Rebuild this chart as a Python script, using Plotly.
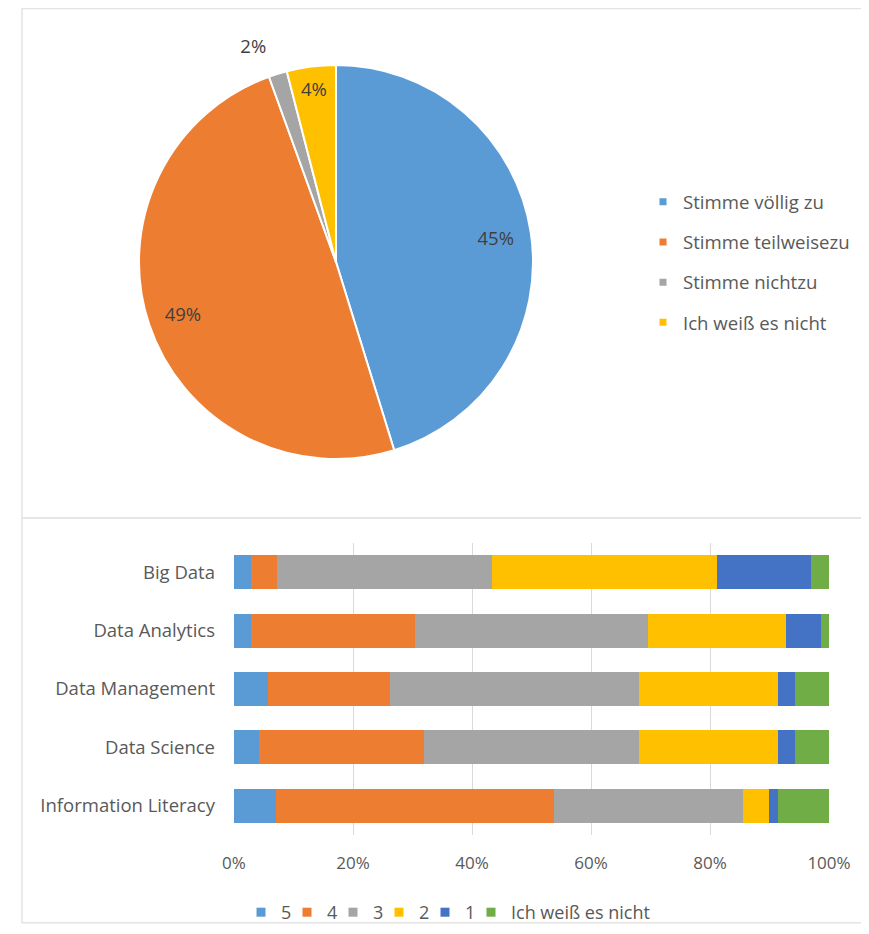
import plotly.graph_objects as go

# ---------- data ----------
pie_labels = ["Stimme völlig zu", "Stimme teilweisezu", "Stimme nichtzu", "Ich weiß es nicht"]
pie_values = [45, 49, 1.5, 4]
pie_colors = ["#5B9BD5", "#ED7D31", "#A5A5A5", "#FFC000"]

categories = ["Big Data", "Data Analytics", "Data Management", "Data Science", "Information Literacy"]
series_names = ["5", "4", "3", "2", "1", "Ich weiß es nicht"]
s5 = [2.8, 2.8, 5.7, 4.2, 7.1]
s4 = [4.4, 27.6, 20.5, 27.7, 46.7]
s3 = [36.2, 39.2, 41.9, 36.2, 31.7]
s2 = [37.8, 23.2, 23.3, 23.3, 4.4]
s1 = [15.8, 5.9, 2.9, 2.9, 1.5]
s_idk = [3.0, 1.3, 5.7, 5.7, 8.6]
bar_colors = ["#5B9BD5", "#ED7D31", "#A5A5A5", "#FFC000", "#4472C4", "#70AD47"]
x_ticks = [0, 20, 40, 60, 80, 100]
x_ticklabels = ["0%", "20%", "40%", "60%", "80%", "100%"]

# ---------- geometry helpers ----------
W, H = 853, 916          # figure size; page body adds an 8 px margin
OFF = 8

def fx(ref):             # target picture x -> figure px
    return ref - OFF

def fy(ref):
    return ref - OFF

def px_x(ref):
    return fx(ref) / W

def px_y(ref):
    return 1 - fy(ref) / H

FONT = "Open Sans"
TXT = "#595959"
LBL = "#404040"

CXf, CYf = fx(336), fy(262)
RF = 197

def pie_domain(r):
    return dict(x=[(CXf - r) / W, (CXf + r) / W], y=[1 - (CYf + r) / H, 1 - (CYf - r) / H])

fig = go.Figure()
pct = "%{percent:.0%}"

# main pie (colours + label of the small yellow slice)
fig.add_trace(go.Pie(
    labels=pie_labels, values=pie_values, sort=False, direction="clockwise", rotation=0,
    marker=dict(colors=pie_colors, line=dict(color="white", width=2)),
    texttemplate=["", "", "", pct], textposition="inside",
    insidetextorientation="horizontal",
    insidetextfont=dict(family=FONT, size=18.5, color=LBL),
    showlegend=False, domain=pie_domain(RF), automargin=False, hoverinfo="label+percent",
))
# transparent ring: places the big-slice labels near the rim
fig.add_trace(go.Pie(
    labels=pie_labels, values=pie_values, sort=False, direction="clockwise", rotation=0,
    hole=0.64,
    marker=dict(colors=["rgba(0,0,0,0)"] * 4, line=dict(width=0)),
    texttemplate=[pct, pct, "", ""], textposition="inside",
    insidetextorientation="horizontal",
    insidetextfont=dict(family=FONT, size=18.5, color=LBL),
    showlegend=False, domain=pie_domain(RF), automargin=False, hoverinfo="skip",
))
# transparent larger pie: outside label of the tiny grey slice
fig.add_trace(go.Pie(
    labels=pie_labels, values=pie_values, sort=False, direction="clockwise", rotation=0,
    marker=dict(colors=["rgba(0,0,0,0)"] * 4, line=dict(width=0)),
    texttemplate=["", "", pct, ""], textposition="outside",
    outsidetextfont=dict(family=FONT, size=18.5, color=LBL),
    showlegend=False, domain=pie_domain(215), automargin=False, hoverinfo="skip",
))

# pie legend entries (legend2), one group each for item spacing
for lab, col in zip(pie_labels, pie_colors):
    fig.add_trace(go.Scatter(
        x=[None], y=[None], mode="markers", name=lab,
        marker=dict(symbol="square", size=7, color=col),
        legend="legend2", legendgroup=lab, showlegend=True,
        xaxis="x2", yaxis="y2", hoverinfo="skip",
    ))

# ---------- stacked bars ----------
for name, vals, col in zip(series_names, [s5, s4, s3, s2, s1, s_idk], bar_colors):
    fig.add_trace(go.Bar(
        y=categories, x=vals, name=name, orientation="h",
        marker=dict(color=col, line=dict(width=0)),
        showlegend=False,
    ))
# bar legend entries (small square keys like the original)
for name, col in zip(series_names, bar_colors):
    fig.add_trace(go.Scatter(
        x=[None], y=[None], mode="markers", name=name,
        marker=dict(symbol="square", size=9, color=col),
        legend="legend", xaxis="x2", yaxis="y2", hoverinfo="skip",
    ))
# blank trailing legend slots so the last (long) legend text is not clipped
for i in range(3):
    fig.add_trace(go.Scatter(
        x=[None], y=[None], mode="markers", name=" ",
        marker=dict(symbol="square", size=1, color="rgba(0,0,0,0)"),
        legend="legend", xaxis="x2", yaxis="y2", hoverinfo="skip",
    ))

fig.update_layout(
    width=W, height=H,
    margin=dict(l=0, r=0, t=0, b=0, autoexpand=False),
    paper_bgcolor="white", plot_bgcolor="white",
    barmode="stack", bargap=0.42,
    font=dict(family=FONT, color=TXT, size=17),
    xaxis=dict(
        domain=[px_x(234), px_x(829)], range=[0, 100],
        tickvals=x_ticks, ticktext=x_ticklabels,
        showgrid=True, gridcolor="#D9D9D9", gridwidth=1,
        zeroline=False, showline=False, automargin=False,
        ticks="", ticklabelstandoff=16,
        tickfont=dict(family=FONT, size=17, color=TXT),
        fixedrange=True,
    ),
    yaxis=dict(
        domain=[px_y(835), px_y(543)], anchor="x",
        type="category",
        categoryorder="array", categoryarray=categories,
        autorange="reversed", automargin=False,
        showgrid=False, zeroline=False, showline=False,
        ticks="", ticklabelstandoff=18,
        tickfont=dict(family=FONT, size=18.5, color=TXT),
        fixedrange=True,
    ),
    xaxis2=dict(visible=False, domain=[0, 0.01], anchor="y2"),
    yaxis2=dict(visible=False, domain=[0, 0.01], anchor="x2"),
    legend=dict(
        orientation="h", xref="container", yref="container",
        x=fx(241) / W, xanchor="left",
        y=1 - 886 / H, yanchor="top",
        font=dict(family=FONT, size=18, color=TXT),
        bgcolor="rgba(0,0,0,0)",
        traceorder="normal", itemclick=False,
        entrywidth=1,
    ),
    legend2=dict(
        orientation="v", xref="container", yref="container",
        x=fx(643) / W, xanchor="left",
        y=1 - 175.2 / H, yanchor="top",
        font=dict(family=FONT, size=18.6, color=TXT),
        bgcolor="rgba(0,0,0,0)",
        tracegroupgap=13, traceorder="grouped", itemclick=False,
    ),
    shapes=[
        dict(type="rect", xref="paper", yref="paper",
             x0=px_x(22), x1=1.05, y0=px_y(518), y1=0.9995,
             line=dict(color="#E3E3E3", width=1.5), fillcolor="rgba(0,0,0,0)", layer="below"),
        dict(type="rect", xref="paper", yref="paper",
             x0=px_x(22), x1=1.05, y0=0.0015, y1=px_y(518),
             line=dict(color="#E3E3E3", width=1.5), fillcolor="rgba(0,0,0,0)", layer="below"),
    ],
)

fig.write_html("out.html")
